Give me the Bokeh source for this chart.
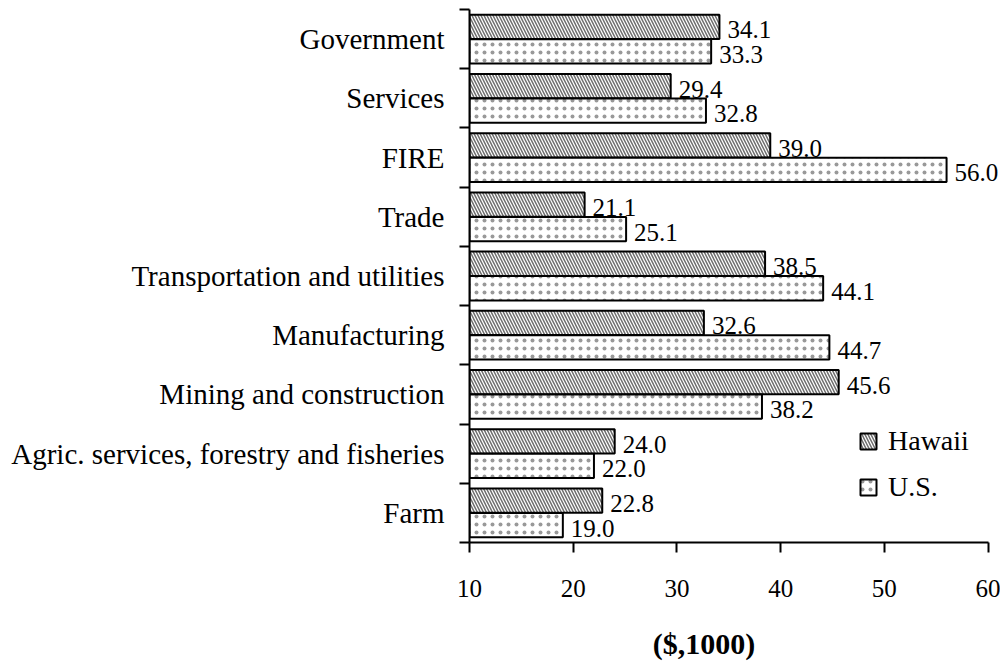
from bokeh.plotting import figure
from bokeh.layouts import column
from bokeh.models import (ColumnDataSource, Range1d, FixedTicker,
                          Legend, LegendItem)
from bokeh.transform import dodge
from bokeh.core.properties import value
from bokeh.embed import file_html
from bokeh.resources import INLINE

categories = ["Farm", "Agric. services, forestry and fisheries",
              "Mining and construction", "Manufacturing",
              "Transportation and utilities", "Trade", "FIRE",
              "Services", "Government"]
hawaii = [22.8, 24.0, 45.6, 32.6, 38.5, 21.1, 39.0, 29.4, 34.1]
us = [19.0, 22.0, 38.2, 44.7, 44.1, 25.1, 56.0, 32.8, 33.3]
x_ticks = [10, 20, 30, 40, 50, 60]
x_label = "($,1000)"

FONT = "Liberation Serif"

n = len(categories)
centers = [i + 0.5 for i in range(n)]
src = ColumnDataSource(dict(
    yc=centers,
    hawaii=hawaii,
    us=us,
    hawaii_lbl=[f"{v:.1f}" for v in hawaii],
    us_lbl=[f"{v:.1f}" for v in us],
))

xr = Range1d(10, 61.2)
p = figure(width=1000, height=625, output_backend="svg", toolbar_location=None,
           x_range=xr, y_range=Range1d(0, n),
           min_border_left=469, min_border_right=0,
           min_border_top=9, min_border_bottom=83)
p.outline_line_color = None
p.xgrid.visible = False
p.ygrid.visible = False
p.background_fill_color = "white"

BH = 0.41
rh = p.hbar(y=dodge("yc", 0.207), left=10, right="hawaii", height=BH, source=src,
            fill_color="white", line_color="black", line_width=2,
            hatch_pattern="left_diagonal_line", hatch_color="#6e6e6e",
            hatch_scale=6, hatch_weight=1.5)
ru = p.hbar(y=dodge("yc", -0.207), left=10, right="us", height=BH, source=src,
            fill_color="white", line_color="black", line_width=2,
            hatch_pattern="dot", hatch_color="#999999",
            hatch_scale=8, hatch_weight=1.1)

p.text(x="hawaii", y=dodge("yc", 0.207), text="hawaii_lbl", source=src,
       x_offset=8, y_offset=3, text_baseline="middle", text_align="left",
       text_font=value(FONT), text_font_size="25px", text_color="black")
p.text(x="us", y=dodge("yc", -0.207), text="us_lbl", source=src,
       x_offset=8, y_offset=3, text_baseline="middle", text_align="left",
       text_font=value(FONT), text_font_size="25px", text_color="black")

# x axis
xa = p.xaxis[0]
xa.ticker = FixedTicker(ticks=x_ticks)
xa.bounds = (10, 60)
xa.major_tick_in = 0
xa.major_tick_out = 10
xa.minor_tick_line_color = None
xa.axis_line_width = 2
xa.major_tick_line_width = 2
xa.major_label_text_font = FONT
xa.major_label_text_font_size = "25px"
xa.major_label_text_color = "black"
xa.major_label_standoff = 27

# y axis: labels at centers, ticks at boundaries
ya = p.yaxis[0]
ya.ticker = FixedTicker(ticks=centers, minor_ticks=list(range(n + 1)))
ya.major_label_overrides = {c: lab for c, lab in zip(centers, categories)}
ya.major_tick_line_color = None
ya.major_tick_in = 0
ya.major_tick_out = 0
ya.minor_tick_in = 0
ya.minor_tick_out = 10
ya.minor_tick_line_width = 2
ya.minor_tick_line_color = "black"
ya.axis_line_width = 2
ya.major_label_text_font = FONT
ya.major_label_text_font_size = "29px"
ya.major_label_text_color = "black"
ya.major_label_standoff = 15

leg = Legend(items=[LegendItem(label="Hawaii", renderers=[rh]),
                    LegendItem(label="U.S.", renderers=[ru])],
             location=(389, 39), padding=0, margin=0,
             border_line_color=None, background_fill_alpha=0,
             glyph_width=20, glyph_height=20, label_standoff=10, spacing=14,
             label_text_font=FONT, label_text_font_size="28px",
             label_text_color="black")
p.add_layout(leg)

# strip below the chart holding the axis title
t = figure(width=1000, height=36, output_backend="svg", toolbar_location=None,
           x_range=xr, y_range=Range1d(0, 1),
           x_axis_location=None, y_axis_location=None,
           min_border_left=469, min_border_right=0,
           min_border_top=0, min_border_bottom=0)
t.outline_line_color = None
t.xgrid.visible = False
t.ygrid.visible = False
t.text(x=[32.6], y=[0.5], text=[x_label], text_align="center",
       text_baseline="middle", text_font=value(FONT), text_font_size="30px",
       text_font_style="bold", text_color="black")

layout = column(p, t, spacing=0)
open("out.html", "w").write(file_html(layout, INLINE))
